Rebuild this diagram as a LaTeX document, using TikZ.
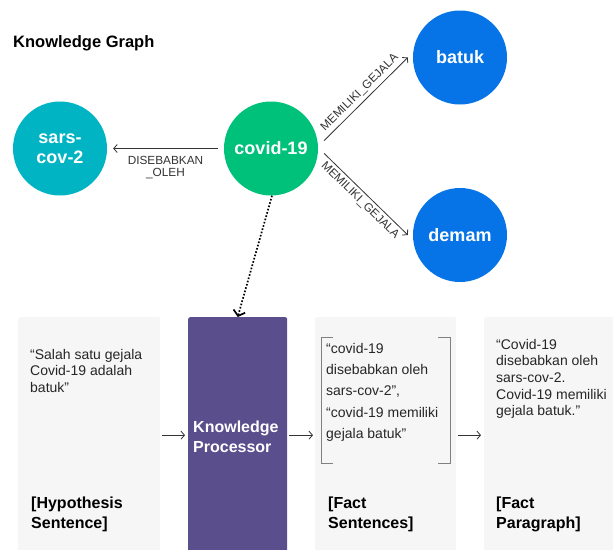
\documentclass[tikz,border=0pt]{standalone}
\usepackage{fontspec}
\setmainfont{Liberation Sans}
\usetikzlibrary{arrows.meta,positioning,calc}
\definecolor{sarscol}{RGB}{0,180,196}
\definecolor{covidcol}{RGB}{0,193,122}
\definecolor{gejalacol}{RGB}{6,116,230}
\definecolor{proccol}{RGB}{90,79,140}
\definecolor{panelcol}{RGB}{246,246,246}
\definecolor{inkcol}{RGB}{51,51,51}
\tikzset{
  entity/.style={circle, minimum size=94pt, inner sep=0pt, text=white, align=center,
    font=\fontsize{18}{20.5}\selectfont\bfseries},
  relation/.style={-{Straight Barb[length=3.5pt,width=8pt]}, draw=inkcol, line width=0.8pt},
  rellabel/.style={font=\fontsize{11.8}{12}\selectfont, text=inkcol, inner sep=3pt},
  panel/.style={rounded corners=2pt, anchor=north west, minimum width=142pt,
    minimum height=236pt, inner sep=0pt},
  % multi-line nodes: base is the last line
  paneltext/.style={anchor=base west, align=left, inner sep=0pt, text=black!85,
    font=\fontsize{14}{16.7}\selectfont},
  paneltitle/.style={anchor=base west, align=left, inner sep=0pt,
    font=\fontsize{16}{19.5}\selectfont\bfseries},
  bracket/.style={draw=black!50, line width=0.9pt},
}

\begin{document}
\begin{tikzpicture}[x=1pt,y=-1pt]
  \useasboundingbox (0,0) rectangle (613,549);
  \node[anchor=base west, inner sep=0pt, font=\fontsize{16.5}{19}\selectfont\bfseries] (title) at (13,47) {Knowledge Graph};

  % knowledge graph
  \node[entity, fill=sarscol] (sars) at (60,148.5) {sars-\\cov-2};
  \node[entity, fill=covidcol] (covid) at (271,148.5) {covid-19};
  \node[entity, fill=gejalacol] (batuk) at (460,57.5) {batuk};
  \node[entity, fill=gejalacol] (demam) at (460,235) {demam};

  \draw[relation, shorten <=6pt, shorten >=6pt] (covid.west) -- node[rellabel, below, align=center, yshift=-4pt] {DISEBABKAN\\\_OLEH} (sars.east);
  \draw[relation] ([shift={(6,-8)}]covid.east) -- node[rellabel, sloped, above] {MEMILIKI\_GEJALA} ([xshift=-5pt]batuk.west);
  \draw[relation] ([shift={(6,5)}]covid.east) -- node[rellabel, sloped, below] {MEMILIKI\_GEJALA} ([xshift=-5pt]demam.west);

  % pipeline
  \node[panel, fill=panelcol] (hyp) at (18,317) {};
  \node[panel, fill=proccol, minimum width=99pt] (proc) at (188,317) {};
  \node[panel, fill=panelcol, minimum width=141pt] (facts) at (315,317) {};
  \node[panel, fill=panelcol, minimum width=140pt] (para) at (484,317) {};

  \draw[line width=1.7pt, dash pattern=on 1.6pt off 1.8pt, -{Straight Barb[length=5pt,width=12pt]}] ([xshift=1pt]covid.south) -- (proc.north);

  \draw[relation, shorten <=2pt, shorten >=3pt] (hyp.east) -- (proc.west);
  \draw[relation, shorten <=2pt, shorten >=2pt] (proc.east) -- (facts.west);
  \draw[relation, shorten <=2pt, shorten >=3pt] (facts.east) -- (para.west);

  \node[paneltext] (hyptxt) at (30,392.4) {“Salah satu gejala\\Covid-19 adalah\\batuk”};
  \node[paneltitle] (hyplbl) at (31,528) {[Hypothesis\\Sentence]};

  \node[paneltitle, text=white] (proctxt) at (193,452) {Knowledge\\Processor};

  \draw[bracket] ($(facts.north west)+(18,20)$) -- ++(-12,0) -- ++(0,126) -- ++(12,0);
  \draw[bracket] ($(facts.north east)+(-18,20)$) -- ++(12,0) -- ++(0,126) -- ++(-12,0);
  \node[paneltext, font=\fontsize{14}{21.3}\selectfont] (factstxt) at (326,438.5) {“covid-19\\disebabkan oleh\\sars-cov-2”,\\“covid-19 memiliki\\gejala batuk”};
  \node[paneltitle] (factslbl) at (328,528) {[Fact\\Sentences]};

  \node[paneltext] (paratxt) at (496,415.8) {“Covid-19\\disebabkan oleh\\sars-cov-2.\\Covid-19 memiliki\\gejala batuk.”};
  \node[paneltitle] (paralbl) at (496,528) {[Fact\\Paragraph]};
\end{tikzpicture}
\end{document}
